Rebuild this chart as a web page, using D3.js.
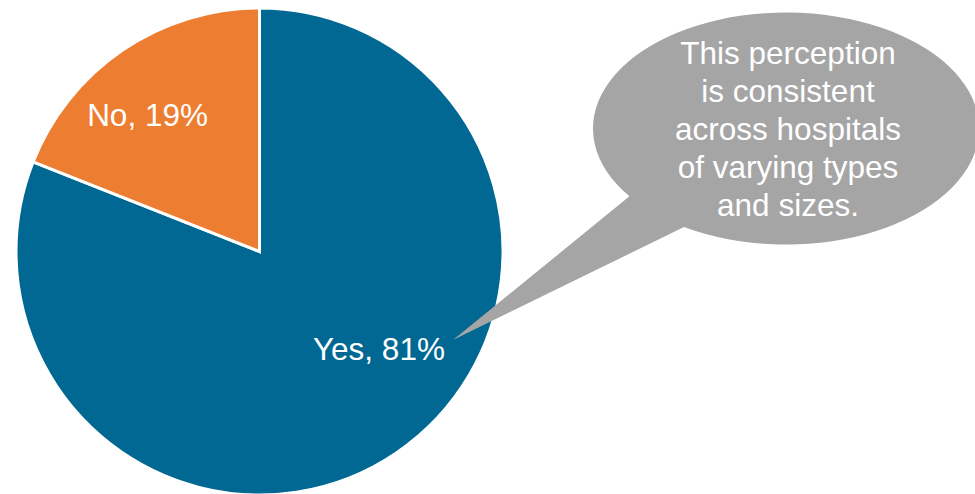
<!DOCTYPE html>
<html>
<head>
<meta charset="utf-8">
<script src="https://cdn.jsdelivr.net/npm/d3@7"></script>
<style>
  html, body { margin: 0; padding: 0; background: #ffffff; }
  svg { display: block; }
  text { font-family: "Liberation Sans", Arial, Helvetica, sans-serif; }
</style>
</head>
<body>
<svg id="chart" width="975" height="494"></svg>
<script>
// Survey answer shares (percent)
const categories = ["Yes", "No"];
const values = [81, 19];
const sliceColors = ["#006892", "#ED7D31"];

// Callout note text, one entry per line
const calloutLines = [
  "This perception",
  "is consistent",
  "across hospitals",
  "of varying types",
  "and sizes."
];

const width = 975, height = 494;
const svg = d3.select("#chart");

// ---- Pie ----
const pieCenter = { x: 259.5, y: 251.5 };
const radius = 243.5;
const fontSize = 31.5;

// Label anchors as (angle in degrees clockwise from 12 o'clock, fraction of radius)
const labelAnchors = { Yes: { angle: 129.2, r: 0.633 }, No: { angle: 320.7, r: 0.726 } };

const slices = categories.map((c, i) => ({ category: c, value: values[i], color: sliceColors[i] }));

const pie = d3.pie().sort(null).value(d => d.value);
const arc = d3.arc().innerRadius(0).outerRadius(radius);

const gPie = svg.append("g").attr("transform", `translate(${pieCenter.x},${pieCenter.y})`);

gPie.selectAll("path.slice")
  .data(pie(slices))
  .join("path")
  .attr("class", "slice")
  .attr("d", arc)
  .attr("fill", d => d.data.color)
  .attr("stroke", "#ffffff")
  .attr("stroke-width", 3)
  .attr("stroke-linejoin", "miter");

gPie.selectAll("text.label")
  .data(pie(slices))
  .join("text")
  .attr("class", "label")
  .attr("x", d => {
    const a = labelAnchors[d.data.category];
    return Math.sin(a.angle * Math.PI / 180) * a.r * radius;
  })
  .attr("y", d => {
    const a = labelAnchors[d.data.category];
    return -Math.cos(a.angle * Math.PI / 180) * a.r * radius;
  })
  .attr("dy", "0.36em")
  .attr("text-anchor", "middle")
  .attr("fill", "#ffffff")
  .style("font-size", fontSize + "px")
  .text(d => `${d.data.category}, ${d.data.value}%`);

// ---- Speech-bubble callout ----
const bubble = { cx: 786, cy: 128.5, rx: 193, ry: 116 };
const tail = { tipX: 453, tipY: 340, startAngle: 144.2, endAngle: 121.9 };

function onEllipse(deg) {
  const t = deg * Math.PI / 180;
  return [bubble.cx + bubble.rx * Math.cos(t), bubble.cy + bubble.ry * Math.sin(t)];
}

const b1 = onEllipse(tail.startAngle);
const b2 = onEllipse(tail.endAngle);
const bubblePath = d3.path();
bubblePath.moveTo(b1[0], b1[1]);
bubblePath.lineTo(tail.tipX, tail.tipY);
bubblePath.lineTo(b2[0], b2[1]);
const pathStr = bubblePath.toString() +
  `A${bubble.rx},${bubble.ry} 0 1 0 ${b1[0]},${b1[1]}Z`;

svg.append("path")
  .attr("d", pathStr)
  .attr("fill", "#A5A5A5");

const lineHeight = 38;
const textCenterX = 788;
const firstBaseline = 63.5;

svg.append("g")
  .selectAll("text")
  .data(calloutLines)
  .join("text")
  .attr("x", textCenterX)
  .attr("y", (d, i) => firstBaseline + i * lineHeight)
  .attr("text-anchor", "middle")
  .attr("fill", "#ffffff")
  .style("font-size", fontSize + "px")
  .text(d => d);
</script>
</body>
</html>
